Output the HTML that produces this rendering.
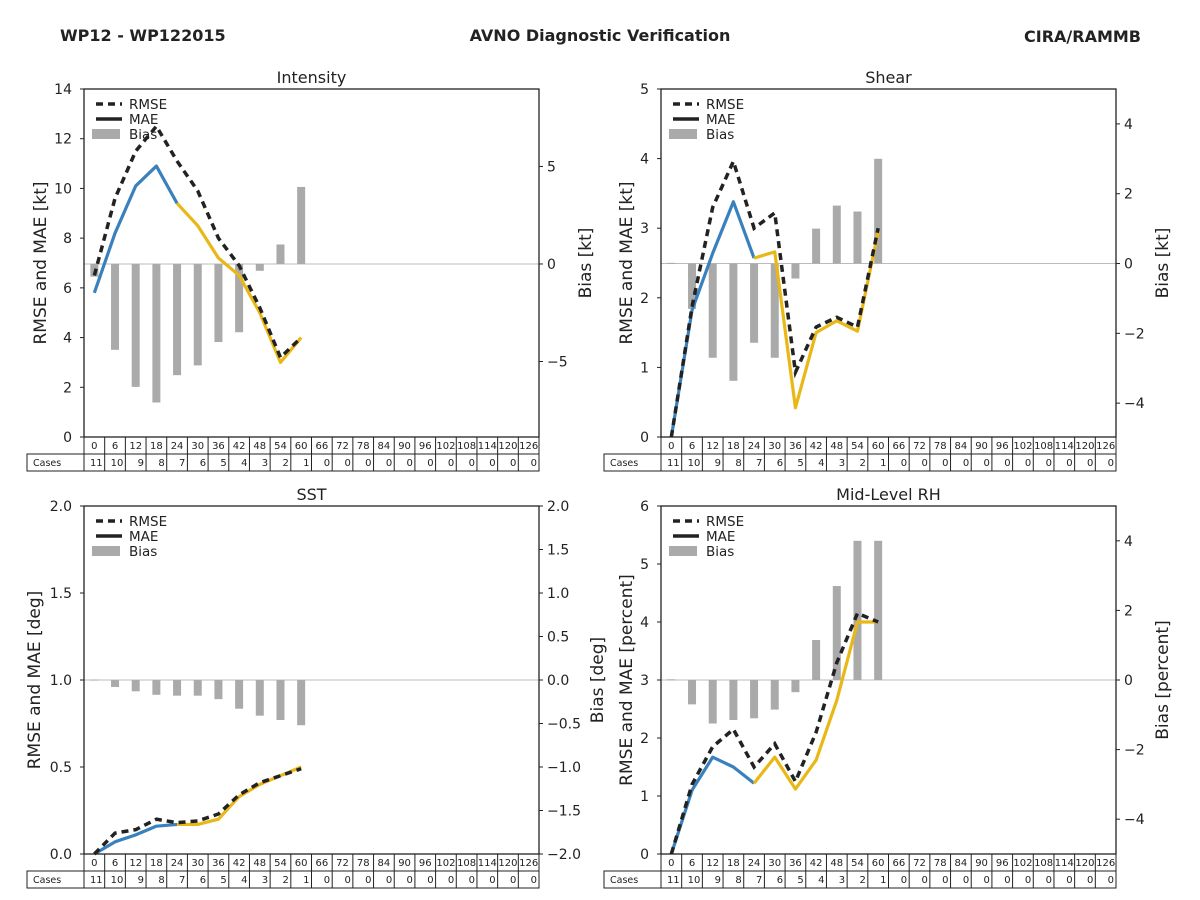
<!DOCTYPE html>
<html><head><meta charset="utf-8"><style>
body{margin:0;background:#fff;}
svg{display:block;font-family:"DejaVu Sans","Liberation Sans",sans-serif;}
</style></head><body>
<svg id="root" width="1200" height="900" viewBox="0 0 1200 900">
<text x="60" y="41" font-size="16" font-weight="bold" fill="#222">WP12 - WP122015</text>
<text x="600" y="41" font-size="16" font-weight="bold" fill="#222" text-anchor="middle">AVNO Diagnostic Verification</text>
<text x="1141" y="42" font-size="16" font-weight="bold" fill="#222" text-anchor="end">CIRA/RAMMB</text>
</svg>
<script>
const hours=[0,6,12,18,24,30,36,42,48,54,60,66,72,78,84,90,96,102,108,114,120,126];
const cases=[11,10,9,8,7,6,5,4,3,2,1,0,0,0,0,0,0,0,0,0,0,0];
const intRmse=[6.5,9.6,11.5,12.5,11.1,9.9,8.0,6.9,5.2,3.2,4.0];
const intMae=[5.8,8.2,10.1,10.9,9.4,8.5,7.2,6.5,5.0,3.0,4.0];
const intBias=[-0.65,-4.4,-6.3,-7.1,-5.7,-5.2,-4.0,-3.5,-0.35,1.0,3.95];
const shRmse=[0,1.87,3.3,3.96,3.0,3.22,0.93,1.58,1.72,1.58,3.0];
const shMae=[0,1.82,2.64,3.38,2.57,2.66,0.42,1.5,1.67,1.52,2.95];
const shBias=[0.02,-1.3,-2.7,-3.36,-2.27,-2.7,-0.43,1.0,1.66,1.49,3.0];
const sstRmse=[0,0.12,0.14,0.20,0.18,0.19,0.23,0.34,0.41,0.45,0.49];
const sstMae=[0,0.07,0.11,0.16,0.17,0.17,0.20,0.33,0.40,0.45,0.50];
const sstBias=[0.005,-0.08,-0.13,-0.17,-0.18,-0.18,-0.22,-0.33,-0.41,-0.46,-0.52];
const rhRmse=[0,1.2,1.85,2.15,1.5,1.9,1.25,2.1,3.3,4.15,4.0];
const rhMae=[0,1.1,1.67,1.5,1.22,1.67,1.12,1.62,2.65,4.0,4.0];
const rhBias=[0.02,-0.7,-1.25,-1.15,-1.1,-0.85,-0.35,1.15,2.7,4.0,4.0];
const intLeftTicks=[0,2,4,6,8,10,12,14];
const intRightTicks=[-5,0,5];
const shLeftTicks=[0,1,2,3,4,5];
const shRightTicks=[-4,-2,0,2,4];
const sstLeftTicks=[0.0,0.5,1.0,1.5,2.0];
const sstRightTicks=[-2.0,-1.5,-1.0,-0.5,0.0,0.5,1.0,1.5,2.0];
const rhLeftTicks=[0,1,2,3,4,5,6];
const rhRightTicks=[-4,-2,0,2,4];

const NS="http://www.w3.org/2000/svg";
const root=document.getElementById('root');
function mk(tag,attrs,parent,text){const e=document.createElementNS(NS,tag);for(const k in attrs)e.setAttribute(k,attrs[k]);if(text!==undefined)e.textContent=text;(parent||root).appendChild(e);return e;}

function panel(o){
  const g=mk('g',{});
  
  
  const x0=o.x0,x1=o.x1,y0=o.y0,y1=o.y1;
  const cw=(x1-x0)/hours.length;
  const xs=i=>x0+cw*(i+0.5);
  const yl=v=>y1-(v-o.lmin)/(o.lmax-o.lmin)*(y1-y0);
  const yr=v=>y1-(v-o.rmin)/(o.rmax-o.rmin)*(y1-y0);
  // title
  const t=mk('text',{x:(x0+x1)/2,y:y0-6,'font-size':16,'text-anchor':'middle',fill:'#222'},g,o.title);
  
  // zero line
  const zl=mk('line',{x1:x0,x2:x1,y1:yr(0),y2:yr(0),stroke:'#bbb','stroke-width':1},g);
  
  // bars
  o.bias.forEach((b,i)=>{
    const ya=yr(0),yb=yr(b);
    const r=mk('rect',{x:xs(i)-4,y:Math.min(ya,yb),width:8,height:Math.max(1,Math.abs(yb-ya)),fill:'#aaaaaa'},g);
    
    
  });
  // MAE lines
  const split=4;
  const pts=(arr,a,b)=>arr.slice(a,b).map((v,j)=>xs(a+j)+','+yl(v)).join(' ');
  const m1=mk('polyline',{points:pts(o.mae,0,split+1),fill:'none',stroke:'#3a80bd','stroke-width':3.2,'stroke-linejoin':'round'},g);
  
  const m2=mk('polyline',{points:pts(o.mae,split,o.mae.length),fill:'none',stroke:'#e9b816','stroke-width':3.2,'stroke-linejoin':'round'},g);
  
  const rm=mk('polyline',{points:pts(o.rmse,0,o.rmse.length),fill:'none',stroke:'#222','stroke-width':3.5,'stroke-dasharray':'7,5'},g);
  
  // frame
  const fr=mk('rect',{x:x0,y:y0,width:x1-x0,height:y1-y0,fill:'none',stroke:'#222','stroke-width':1.3},g);
  
  // left ticks
  o.lticks.forEach(v=>{
    mk('line',{x1:x0-4,x2:x0,y1:yl(v),y2:yl(v),stroke:'#222'},g);
    const tl=mk('text',{x:x0-12,y:yl(v)+5,'font-size':14,'text-anchor':'end',fill:'#222'},g,o.lfmt(v));
    
  });
  o.rticks.forEach(v=>{
    mk('line',{x1:x1,x2:x1+4,y1:yr(v),y2:yr(v),stroke:'#222'},g);
    const tr=mk('text',{x:x1+8,y:yr(v)+5,'font-size':14,fill:'#222'},g,o.rfmt(v));
    
  });
  // axis labels
  const ly=(y0+y1)/2;
  const la=mk('text',{x:o.lx,y:ly,'font-size':17,'text-anchor':'middle',fill:'#222',transform:`rotate(-90 ${o.lx} ${ly})`},g,o.ltitle);
  
  const ra=mk('text',{x:o.rx,y:ly,'font-size':17,'text-anchor':'middle',fill:'#222',transform:`rotate(-90 ${o.rx} ${ly})`},g,o.rtitle);
  
  // legend
  const lg=mk('g',{},g);
  
  const lx=x0+10,ly0=y0+15;
  mk('line',{x1:lx+2,x2:lx+28,y1:ly0,y2:ly0,stroke:'#222','stroke-width':3.5,'stroke-dasharray':'7,5'},lg);
  mk('text',{x:lx+35,y:ly0+5,'font-size':13.5,fill:'#222'},lg,'RMSE');
  mk('line',{x1:lx+2,x2:lx+28,y1:ly0+15,y2:ly0+15,stroke:'#222','stroke-width':3.5},lg);
  mk('text',{x:lx+35,y:ly0+20,'font-size':13.5,fill:'#222'},lg,'MAE');
  mk('rect',{x:lx-2,y:ly0+25,width:28,height:10,fill:'#aaa'},lg);
  mk('text',{x:lx+35,y:ly0+35,'font-size':13.5,fill:'#222'},lg,'Bias');
  // table
  const tb=mk('g',{},g);
  
  const r1=y1,r2=y1+17,r3=y1+34;
  mk('rect',{x:x0,y:r1,width:x1-x0,height:17,fill:'none',stroke:'#222'},tb);
  mk('rect',{x:x0-57,y:r2,width:x1-x0+57,height:17,fill:'none',stroke:'#222'},tb);
  mk('text',{x:x0-51,y:r2+12,'font-size':9.5,fill:'#222'},tb,'Cases');
  hours.forEach((h,i)=>{
    const cx=x0+cw*i;
    mk('line',{x1:cx,x2:cx,y1:r1,y2:r3,stroke:'#222'},tb);
    mk('text',{x:cx+cw/2,y:r1+12,'font-size':10,'text-anchor':'middle',fill:'#222'},tb,String(h));
    mk('text',{x:cx+cw-2,y:r2+12,'font-size':10,'text-anchor':'end',fill:'#222'},tb,String(cases[i]));
  });
}
const f0=v=>String(v), f1=v=>v.toFixed(1).replace('-','\u2212'), fi=v=>String(v).replace('-','\u2212');
panel({key:'intensity',title:'Intensity',x0:84,x1:539,y0:89,y1:437,lmin:0,lmax:14,rmin:-8.87,rmax:8.97,rmse:intRmse,mae:intMae,bias:intBias,lticks:intLeftTicks,rticks:intRightTicks,lfmt:f0,rfmt:fi,ltitle:'RMSE and MAE [kt]',rtitle:'Bias [kt]',lx:46,rx:591});
panel({key:'shear',title:'Shear',x0:661,x1:1116,y0:89,y1:437,lmin:0,lmax:5,rmin:-4.97,rmax:5,rmse:shRmse,mae:shMae,bias:shBias,lticks:shLeftTicks,rticks:shRightTicks,lfmt:f0,rfmt:fi,ltitle:'RMSE and MAE [kt]',rtitle:'Bias [kt]',lx:632,rx:1168});
panel({key:'sst',title:'SST',x0:84,x1:539,y0:506,y1:854,lmin:0,lmax:2,rmin:-2,rmax:2,rmse:sstRmse,mae:sstMae,bias:sstBias,lticks:sstLeftTicks,rticks:sstRightTicks,lfmt:v=>v.toFixed(1),rfmt:f1,ltitle:'RMSE and MAE [deg]',rtitle:'Bias [deg]',lx:40,rx:603});
panel({key:'midlevel-rh',title:'Mid-Level RH',x0:661,x1:1116,y0:506,y1:854,lmin:0,lmax:6,rmin:-5,rmax:5,rmse:rhRmse,mae:rhMae,bias:rhBias,lticks:rhLeftTicks,rticks:rhRightTicks,lfmt:f0,rfmt:fi,ltitle:'RMSE and MAE [percent]',rtitle:'Bias [percent]',lx:632,rx:1168});
</script>
</body></html>
